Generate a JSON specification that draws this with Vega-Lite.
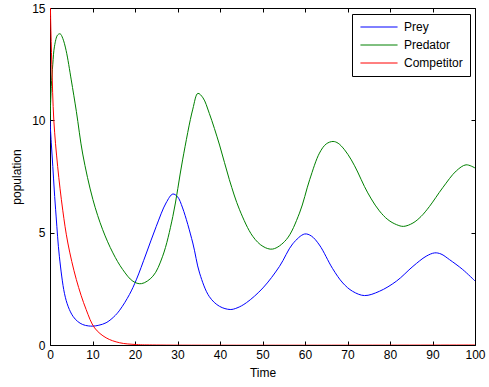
{
  "$schema": "https://vega.github.io/schema/vega-lite/v6.json",
  "width": 425,
  "height": 337,
  "autosize": "none",
  "padding": {"left": 50, "top": 8, "right": 14, "bottom": 42},
  "background": "white",
  "config": {
    "view": {"stroke": "black", "strokeWidth": 1},
    "font": "Liberation Sans",
    "axis": {
      "grid": false,
      "domain": false,
      "tickSize": -4,
      "tickColor": "black",
      "tickWidth": 1,
      "labelColor": "black",
      "labelFontSize": 12,
      "labelFont": "Liberation Sans",
      "titleFont": "Liberation Sans",
      "titleFontSize": 12,
      "titleFontWeight": "normal",
      "titleColor": "black",
      "labelFlush": false
    },
    "legend": {
      "orient": "none",
      "legendX": 302,
      "legendY": 6,
      "strokeColor": "black",
      "fillColor": "white",
      "padding": 7,
      "symbolType": "M-4,0H4",
      "symbolSize": 86,
      "symbolStrokeWidth": 1,
      "symbolOffset": 14,
      "labelFontSize": 12,
      "labelFont": "Liberation Sans",
      "labelColor": "black",
      "labelOffset": 19,
      "rowPadding": 6
    }
  },
  "data": {
    "values": [
      {"t": 0, "v": 10.0, "s": "Prey"},
      {"t": 0.3, "v": 9.0, "s": "Prey"},
      {"t": 0.66, "v": 7.95, "s": "Prey"},
      {"t": 1.0, "v": 6.9, "s": "Prey"},
      {"t": 1.45, "v": 5.7, "s": "Prey"},
      {"t": 2.2, "v": 3.95, "s": "Prey"},
      {"t": 3.4, "v": 2.3, "s": "Prey"},
      {"t": 4.3, "v": 1.7, "s": "Prey"},
      {"t": 5.4, "v": 1.28, "s": "Prey"},
      {"t": 6.5, "v": 1.05, "s": "Prey"},
      {"t": 7.7, "v": 0.91, "s": "Prey"},
      {"t": 9.0, "v": 0.85, "s": "Prey"},
      {"t": 10.1, "v": 0.84, "s": "Prey"},
      {"t": 11.5, "v": 0.88, "s": "Prey"},
      {"t": 13.2, "v": 0.99, "s": "Prey"},
      {"t": 15.0, "v": 1.25, "s": "Prey"},
      {"t": 16.4, "v": 1.55, "s": "Prey"},
      {"t": 18.7, "v": 2.25, "s": "Prey"},
      {"t": 20.3, "v": 2.9, "s": "Prey"},
      {"t": 22.6, "v": 4.05, "s": "Prey"},
      {"t": 25.0, "v": 5.28, "s": "Prey"},
      {"t": 27.3, "v": 6.32, "s": "Prey"},
      {"t": 28.9, "v": 6.72, "s": "Prey"},
      {"t": 30.0, "v": 6.6, "s": "Prey"},
      {"t": 31.2, "v": 6.1, "s": "Prey"},
      {"t": 33.6, "v": 4.54, "s": "Prey"},
      {"t": 35.2, "v": 3.2, "s": "Prey"},
      {"t": 37.5, "v": 2.15, "s": "Prey"},
      {"t": 39.9, "v": 1.72, "s": "Prey"},
      {"t": 42.4, "v": 1.58, "s": "Prey"},
      {"t": 44.0, "v": 1.65, "s": "Prey"},
      {"t": 46.2, "v": 1.88, "s": "Prey"},
      {"t": 50.1, "v": 2.54, "s": "Prey"},
      {"t": 54.0, "v": 3.5, "s": "Prey"},
      {"t": 57.1, "v": 4.5, "s": "Prey"},
      {"t": 59.9, "v": 4.94, "s": "Prey"},
      {"t": 61.5, "v": 4.85, "s": "Prey"},
      {"t": 63.4, "v": 4.45, "s": "Prey"},
      {"t": 66.5, "v": 3.4, "s": "Prey"},
      {"t": 68.9, "v": 2.76, "s": "Prey"},
      {"t": 71.2, "v": 2.39, "s": "Prey"},
      {"t": 74.0, "v": 2.2, "s": "Prey"},
      {"t": 77.5, "v": 2.39, "s": "Prey"},
      {"t": 81.5, "v": 2.84, "s": "Prey"},
      {"t": 85.4, "v": 3.5, "s": "Prey"},
      {"t": 88.5, "v": 3.95, "s": "Prey"},
      {"t": 90.5, "v": 4.1, "s": "Prey"},
      {"t": 92.0, "v": 4.05, "s": "Prey"},
      {"t": 94.0, "v": 3.8, "s": "Prey"},
      {"t": 97.1, "v": 3.36, "s": "Prey"},
      {"t": 100, "v": 2.85, "s": "Prey"},

      {"t": 0, "v": 10.0, "s": "Predator"},
      {"t": 0.3, "v": 11.5, "s": "Predator"},
      {"t": 0.66, "v": 12.5, "s": "Predator"},
      {"t": 1.06, "v": 13.3, "s": "Predator"},
      {"t": 1.8, "v": 13.8, "s": "Predator"},
      {"t": 2.4, "v": 13.85, "s": "Predator"},
      {"t": 3.0, "v": 13.65, "s": "Predator"},
      {"t": 3.8, "v": 13.1, "s": "Predator"},
      {"t": 5.0, "v": 11.8, "s": "Predator"},
      {"t": 6.2, "v": 10.4, "s": "Predator"},
      {"t": 7.7, "v": 8.5, "s": "Predator"},
      {"t": 10.1, "v": 6.47, "s": "Predator"},
      {"t": 12.4, "v": 5.13, "s": "Predator"},
      {"t": 14.8, "v": 4.1, "s": "Predator"},
      {"t": 17.1, "v": 3.36, "s": "Predator"},
      {"t": 19.5, "v": 2.84, "s": "Predator"},
      {"t": 21.5, "v": 2.73, "s": "Predator"},
      {"t": 24.2, "v": 3.06, "s": "Predator"},
      {"t": 26.5, "v": 3.95, "s": "Predator"},
      {"t": 28.9, "v": 5.72, "s": "Predator"},
      {"t": 31.2, "v": 8.24, "s": "Predator"},
      {"t": 33.6, "v": 10.5, "s": "Predator"},
      {"t": 34.8, "v": 11.2, "s": "Predator"},
      {"t": 36.0, "v": 11.0, "s": "Predator"},
      {"t": 37.5, "v": 10.3, "s": "Predator"},
      {"t": 39.9, "v": 8.9, "s": "Predator"},
      {"t": 42.2, "v": 7.36, "s": "Predator"},
      {"t": 44.6, "v": 6.02, "s": "Predator"},
      {"t": 47.7, "v": 4.84, "s": "Predator"},
      {"t": 50.1, "v": 4.39, "s": "Predator"},
      {"t": 52.4, "v": 4.27, "s": "Predator"},
      {"t": 55.6, "v": 4.69, "s": "Predator"},
      {"t": 58.7, "v": 5.87, "s": "Predator"},
      {"t": 61.1, "v": 7.36, "s": "Predator"},
      {"t": 63.4, "v": 8.54, "s": "Predator"},
      {"t": 65.0, "v": 8.95, "s": "Predator"},
      {"t": 66.6, "v": 9.06, "s": "Predator"},
      {"t": 67.8, "v": 8.98, "s": "Predator"},
      {"t": 69.3, "v": 8.69, "s": "Predator"},
      {"t": 70.9, "v": 8.24, "s": "Predator"},
      {"t": 72.4, "v": 7.7, "s": "Predator"},
      {"t": 74.0, "v": 7.05, "s": "Predator"},
      {"t": 75.6, "v": 6.5, "s": "Predator"},
      {"t": 77.5, "v": 5.97, "s": "Predator"},
      {"t": 79.5, "v": 5.58, "s": "Predator"},
      {"t": 81.5, "v": 5.36, "s": "Predator"},
      {"t": 83.2, "v": 5.28, "s": "Predator"},
      {"t": 85.4, "v": 5.43, "s": "Predator"},
      {"t": 87.3, "v": 5.72, "s": "Predator"},
      {"t": 89.3, "v": 6.17, "s": "Predator"},
      {"t": 92.4, "v": 7.0, "s": "Predator"},
      {"t": 95.6, "v": 7.75, "s": "Predator"},
      {"t": 97.9, "v": 8.02, "s": "Predator"},
      {"t": 100, "v": 7.88, "s": "Predator"},

      {"t": 0, "v": 16.5, "s": "Competitor"},
      {"t": 0.15, "v": 14.5, "s": "Competitor"},
      {"t": 0.43, "v": 12.5, "s": "Competitor"},
      {"t": 0.9, "v": 10.0, "s": "Competitor"},
      {"t": 1.8, "v": 7.95, "s": "Competitor"},
      {"t": 3.0, "v": 6.0, "s": "Competitor"},
      {"t": 4.2, "v": 4.54, "s": "Competitor"},
      {"t": 6.2, "v": 2.91, "s": "Competitor"},
      {"t": 8.5, "v": 1.58, "s": "Competitor"},
      {"t": 10.5, "v": 0.76, "s": "Competitor"},
      {"t": 13.2, "v": 0.32, "s": "Competitor"},
      {"t": 16.4, "v": 0.1, "s": "Competitor"},
      {"t": 20.3, "v": 0.02, "s": "Competitor"},
      {"t": 25.0, "v": 0.0, "s": "Competitor"},
      {"t": 100, "v": 0.0, "s": "Competitor"}
    ]
  },
  "layer": [
    {
      "mark": {"type": "line", "strokeWidth": 1, "clip": true, "interpolate": "catmull-rom"},
      "encoding": {
        "x": {"field": "t", "type": "quantitative", "scale": {"domain": [0, 100], "nice": false},
              "axis": {"orient": "bottom", "title": "Time", "values": [0,10,20,30,40,50,60,70,80,90,100], "labelPadding": 8, "titlePadding": 7}},
        "y": {"field": "v", "type": "quantitative", "scale": {"domain": [0, 15], "nice": false, "zero": false},
              "axis": {"orient": "left", "title": "population", "values": [0,5,10,15], "labelPadding": 9, "titlePadding": 8}},
        "color": {"field": "s", "type": "nominal", "title": null,
                  "scale": {"domain": ["Prey", "Predator", "Competitor"], "range": ["#0000ff", "#008000", "#ff0000"]}},
        "detail": {"field": "s"}
      }
    },
    {
      "mark": {"type": "line", "opacity": 0, "clip": true},
      "encoding": {
        "x": {"field": "t", "type": "quantitative", "scale": {"domain": [0, 100], "nice": false},
              "axis": {"orient": "top", "title": null, "labels": false, "values": [0,10,20,30,40,50,60,70,80,90,100]}},
        "y": {"field": "v", "type": "quantitative", "scale": {"domain": [0, 15], "nice": false, "zero": false},
              "axis": {"orient": "right", "title": null, "labels": false, "values": [0,5,10,15]}},
        "detail": {"field": "s"}
      }
    }
  ],
  "resolve": {"axis": {"x": "independent", "y": "independent"}}
}
